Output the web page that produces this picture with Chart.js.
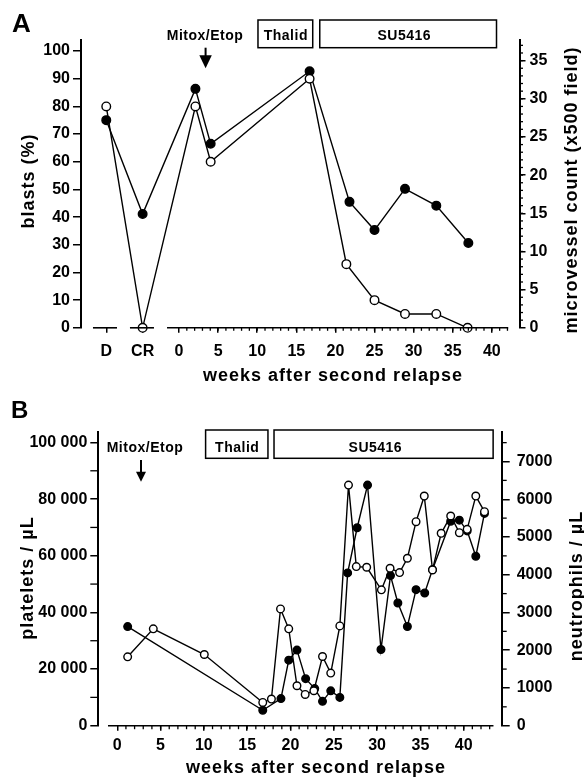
<!DOCTYPE html>
<html><head><meta charset="utf-8">
<script src="https://cdn.jsdelivr.net/npm/chart.js@4.4.1/dist/chart.umd.min.js"></script>
<style>
html,body{margin:0;padding:0;background:#fff;width:584px;height:777px;overflow:hidden}
.wrap{position:absolute;left:0;width:584px}
#wa{top:0;height:392px}
#wb{top:390px;height:387px}
canvas{display:block}
</style></head><body>
<div class="wrap" id="wa"><canvas id="ca" width="584" height="392"></canvas></div>
<div class="wrap" id="wb"><canvas id="cb" width="584" height="387"></canvas></div>
<script>
// ---------- Panel A data ----------
const aCatPos = { D: -9.3, CR: -4.65 };               // where the D / CR categories sit on the week axis
const aBlastWeeks = ['D', 'CR', 2.1, 4.05, 16.7, 21.4, 25, 28.9, 32.9, 36.9];
const aBlasts = [80, 0, 80, 60, 90, 23, 10, 5, 5, 0];                       // open circles, left axis (%)
const aMvWeeks = ['D', 'CR', 2.1, 4.05, 16.7, 21.8, 25, 28.9, 32.9, 37];
const aMicrovessel = [27.2, 14.9, 31.3, 24.1, 33.6, 16.5, 12.8, 18.2, 16.0, 11.1]; // filled, right axis
const aXTickValues = [-9.3, -4.65, 0, 5, 10, 15, 20, 25, 30, 35, 40];
const aXTickLabels = ['D', 'CR', '0', '5', '10', '15', '20', '25', '30', '35', '40'];
const aLeftTicks = [0, 10, 20, 30, 40, 50, 60, 70, 80, 90, 100];
const aRightTicks = [0, 5, 10, 15, 20, 25, 30, 35];
const aTreat = [ { label: 'Thalid', from: 10.1, to: 17.1, textAt: 13.66 },
                 { label: 'SU5416', from: 18.0, to: 40.6, textAt: 28.8 } ];
const aMitox = { label: 'Mitox/Etop', textAt: 3.33, arrowAt: 3.4 };

// ---------- Panel B data ----------
const bPltWeeks = [1.2, 16.8, 18.9, 19.8, 20.75, 21.75, 22.8, 23.7, 24.65, 25.7, 26.6, 27.7, 28.9, 30.45, 31.55, 32.4, 33.5, 34.5, 35.5, 36.4, 38.5, 39.5, 40.4, 41.4, 42.4];
const bPlatelets = [35000, 5450, 9560, 23150, 26690, 16600, 13100, 8600, 12300, 10000, 53950, 69880, 84960, 26900, 53000, 43330, 35040, 48040, 46870, 55120, 72200, 72570, 68780, 59820, 74940];
const bNeuWeeks = [1.2, 4.16, 10.05, 16.8, 17.8, 18.85, 19.8, 20.75, 21.7, 22.7, 23.7, 24.65, 25.7, 26.7, 27.6, 28.8, 30.5, 31.5, 32.6, 33.5, 34.5, 35.45, 36.4, 37.4, 38.5, 39.5, 40.4, 41.4, 42.4];
const bNeutrophils = [1825, 2566, 1886, 616, 706, 3095, 2566, 1058, 828, 926, 1833, 1394, 2645, 6376, 4215, 4198, 3600, 4172, 4056, 4437, 5405, 6085, 4127, 5098, 5556, 5114, 5203, 6085, 5670];
const bXTicks = [0, 5, 10, 15, 20, 25, 30, 35, 40];
const bLeftTicks = [0, 20000, 40000, 60000, 80000, 100000];
const bRightTicks = [0, 1000, 2000, 3000, 4000, 5000, 6000, 7000];
const bTreat = [ { label: 'Thalid', from: 10.2, to: 17.4, textAt: 13.85 },
                 { label: 'SU5416', from: 18.1, to: 43.4, textAt: 29.8 } ];
const bMitox = { label: 'Mitox/Etop', textAt: 3.2, arrowAt: 2.74 };

// ---------- common ----------
const FONT = "'Liberation Sans', Arial, Helvetica, sans-serif";
Chart.defaults.font.family = FONT;
Chart.defaults.font.weight = 'bold';
Chart.defaults.color = '#000';
Chart.defaults.animation = false;

const thousands = v => String(v).replace(/\B(?=(\d{3})+(?!\d))/g, ' ');

const decor = {
  id: 'decor',
  afterDraw(chart, args, o) {
    const ctx = chart.ctx, xs = chart.scales.x, ca = chart.chartArea;
    const line = (x1, y1, x2, y2) => { ctx.beginPath(); ctx.moveTo(x1, y1); ctx.lineTo(x2, y2); ctx.stroke(); };
    ctx.save();
    ctx.strokeStyle = '#000'; ctx.fillStyle = '#000';
    // broken x axis
    ctx.lineWidth = o.axisWidth;
    o.segments.forEach(([a, b]) => line(xs.getPixelForValue(a), ca.bottom, xs.getPixelForValue(b), ca.bottom));
    // minor ticks
    ctx.lineWidth = 1.3;
    o.minor.forEach(m => {
      const sc = chart.scales[m.axis];
      for (let v = m.from; v <= m.to + 1e-9; v += m.step) {
        const p = sc.getPixelForValue(v);
        if (m.axis === 'x') line(p, ca.bottom, p, ca.bottom + m.len);
        else if (sc.position === 'left') line(ca.left - m.len, p, ca.left, p);
        else line(ca.right, p, ca.right + m.len, p);
      }
    });
    // treatment boxes
    ctx.lineWidth = 1.5;
    ctx.textAlign = 'center'; ctx.textBaseline = 'alphabetic';
    ctx.font = 'bold 14px ' + FONT;
    ctx.letterSpacing = '0.5px';
    o.treat.forEach(t => {
      const x1 = xs.getPixelForValue(t.from), x2 = xs.getPixelForValue(t.to);
      ctx.strokeRect(x1, o.boxTop, x2 - x1, o.boxBottom - o.boxTop);
      ctx.fillText(t.label, xs.getPixelForValue(t.textAt), o.boxText);
    });
    // Mitox/Etop arrow
    ctx.fillText(o.mitox.label, xs.getPixelForValue(o.mitox.textAt), o.mitoxText);
    const ax = xs.getPixelForValue(o.mitox.arrowAt);
    ctx.lineWidth = 2;
    line(ax, o.arrowTop, ax, o.arrowBottom - o.headH + 1);
    ctx.beginPath();
    ctx.moveTo(ax - o.headW / 2, o.arrowBottom - o.headH);
    ctx.lineTo(ax + o.headW / 2, o.arrowBottom - o.headH);
    ctx.lineTo(ax, o.arrowBottom);
    ctx.closePath(); ctx.fill();
    // panel letter
    ctx.letterSpacing = '0px';
    ctx.textAlign = 'left';
    ctx.font = 'bold ' + o.letterSize + 'px ' + FONT;
    ctx.fillText(o.letter, o.letterX, o.letterY);
    // axis titles
    ctx.font = 'bold 18px ' + FONT;
    ctx.letterSpacing = '1px';
    ctx.textAlign = 'center';
    ctx.fillText(o.xTitle, o.xTitleX, o.xTitleY);
    [o.yTitle, o.y2Title].forEach(t => {
      ctx.save(); ctx.translate(t.x, t.y); ctx.rotate(-Math.PI / 2);
      ctx.fillText(t.text, 0, 0); ctx.restore();
    });
    ctx.restore();
  }
};

function yAxis(pos, min, max, ticksArr, width, tickLen, pad, fmt) {
  return {
    type: 'linear', position: pos, min, max,
    afterBuildTicks: s => { s.ticks = ticksArr.map(v => ({ value: v })); },
    afterFit: s => { s.width = width; },
    border: { display: true, color: '#000', width: 2 },
    grid: { display: true, drawOnChartArea: false, drawTicks: true, tickLength: tickLen, color: '#000', lineWidth: 1.5 },
    ticks: { font: { size: 16, weight: 'bold' }, padding: pad, color: '#000', callback: fmt || (v => String(v)) }
  };
}

function lineDs(xs, ys, axis, filled, r) {
  return {
    data: xs.map((x, i) => ({ x, y: ys[i] })),
    yAxisID: axis,
    borderColor: '#000', borderWidth: 1.4,
    backgroundColor: filled ? '#000' : '#fff',
    pointBackgroundColor: filled ? '#000' : '#fff',
    pointBorderColor: '#000', pointBorderWidth: 1.4,
    pointRadius: r, pointHoverRadius: r, tension: 0, clip: false, fill: false
  };
}

// ---------- Chart A ----------
const aPos = w => (typeof w === 'string' ? aCatPos[w] : w);
new Chart(document.getElementById('ca'), {
  type: 'line',
  data: { datasets: [
    lineDs(aBlastWeeks.map(aPos), aBlasts, 'y', false, 4.3),
    lineDs(aMvWeeks.map(aPos), aMicrovessel, 'y2', true, 4.3)
  ] },
  options: {
    responsive: false, animation: false, events: [],
    layout: { padding: { top: 40, left: 0, right: 0, bottom: 0 } },
    plugins: { legend: { display: false }, tooltip: { enabled: false },
      decor: {
        axisWidth: 1.6,
        segments: [[-11.0, -7.93], [-6.27, -3.2], [-1.53, 42.1]],
        minor: [ { axis: 'x', from: 1, to: 42, step: 1, len: 3 },
                 { axis: 'y2', from: 1, to: 37, step: 1, len: 3.5 } ],
        treat: aTreat, boxTop: 20, boxBottom: 47.7, boxText: 39.5,
        mitox: aMitox, mitoxText: 40, arrowTop: 47.7, arrowBottom: 68.3, headH: 13, headW: 12.5,
        letter: 'A', letterSize: 26, letterX: 12, letterY: 32,
        xTitle: 'weeks after second relapse', xTitleX: 333, xTitleY: 381,
        yTitle: { text: 'blasts (%)', x: 34, y: 181 },
        y2Title: { text: 'microvessel count (x500 field)', x: 577, y: 190 }
      } },
    scales: {
      x: {
        type: 'linear', min: -12.53, max: 43.54,
        afterBuildTicks: s => { s.ticks = aXTickValues.map(v => ({ value: v })); },
        afterFit: s => { s.height = 64.2; },
        border: { display: false },
        grid: { display: true, drawOnChartArea: false, drawTicks: true, tickLength: 5, color: '#000', lineWidth: 1.5 },
        ticks: { font: { size: 16, weight: 'bold' }, padding: 9, autoSkip: false, maxRotation: 0, color: '#000',
                 callback: (v, i) => aXTickLabels[i] }
      },
      y: yAxis('left', 0, 104, aLeftTicks, 81, 8, 3),
      y2: yAxis('right', 0, 37.7, aRightTicks, 64.5, 6, 4)
    }
  },
  plugins: [decor]
});

// ---------- Chart B ----------
new Chart(document.getElementById('cb'), {
  type: 'line',
  data: { datasets: [
    lineDs(bNeuWeeks, bNeutrophils, 'y2', false, 3.8),
    lineDs(bPltWeeks, bPlatelets, 'y', true, 3.8)
  ] },
  options: {
    responsive: false, animation: false, events: [],
    layout: { padding: { top: 41.7, left: 0, right: 0, bottom: 0 } },
    plugins: { legend: { display: false }, tooltip: { enabled: false },
      decor: {
        axisWidth: 1.6,
        segments: [[-1.07, 43.44]],
        minor: [ { axis: 'x', from: 1, to: 43, step: 1, len: 3.5 },
                 { axis: 'y', from: 10000, to: 90000, step: 20000, len: 8 },
                 { axis: 'y2', from: 500, to: 7500, step: 1000, len: 5 } ],
        treat: bTreat, boxTop: 40, boxBottom: 68.3, boxText: 61.5,
        mitox: bMitox, mitoxText: 61.7, arrowTop: 70, arrowBottom: 91.7, headH: 10, headW: 10,
        letter: 'B', letterSize: 24, letterX: 11, letterY: 28,
        xTitle: 'weeks after second relapse', xTitleX: 316, xTitleY: 383,
        yTitle: { text: 'platelets / µL', x: 33, y: 188 },
        y2Title: { text: 'neutrophils / µL', x: 582, y: 196 }
      } },
    scales: {
      x: {
        type: 'linear', min: -2.19, max: 44.39,
        afterBuildTicks: s => { s.ticks = bXTicks.map(v => ({ value: v })); },
        afterFit: s => { s.height = 51.3; },
        border: { display: false },
        grid: { display: true, drawOnChartArea: false, drawTicks: true, tickLength: 5, color: '#000', lineWidth: 1.5 },
        ticks: { font: { size: 16, weight: 'bold' }, padding: 5, autoSkip: false, maxRotation: 0, color: '#000' }
      },
      y: yAxis('left', 0, 103800, bLeftTicks, 98.3, 8, 3, v => thousands(v)),
      y2: yAxis('right', 0, 7790, bRightTicks, 82.3, 8, 7)
    }
  },
  plugins: [decor]
});
</script>
</body></html>
